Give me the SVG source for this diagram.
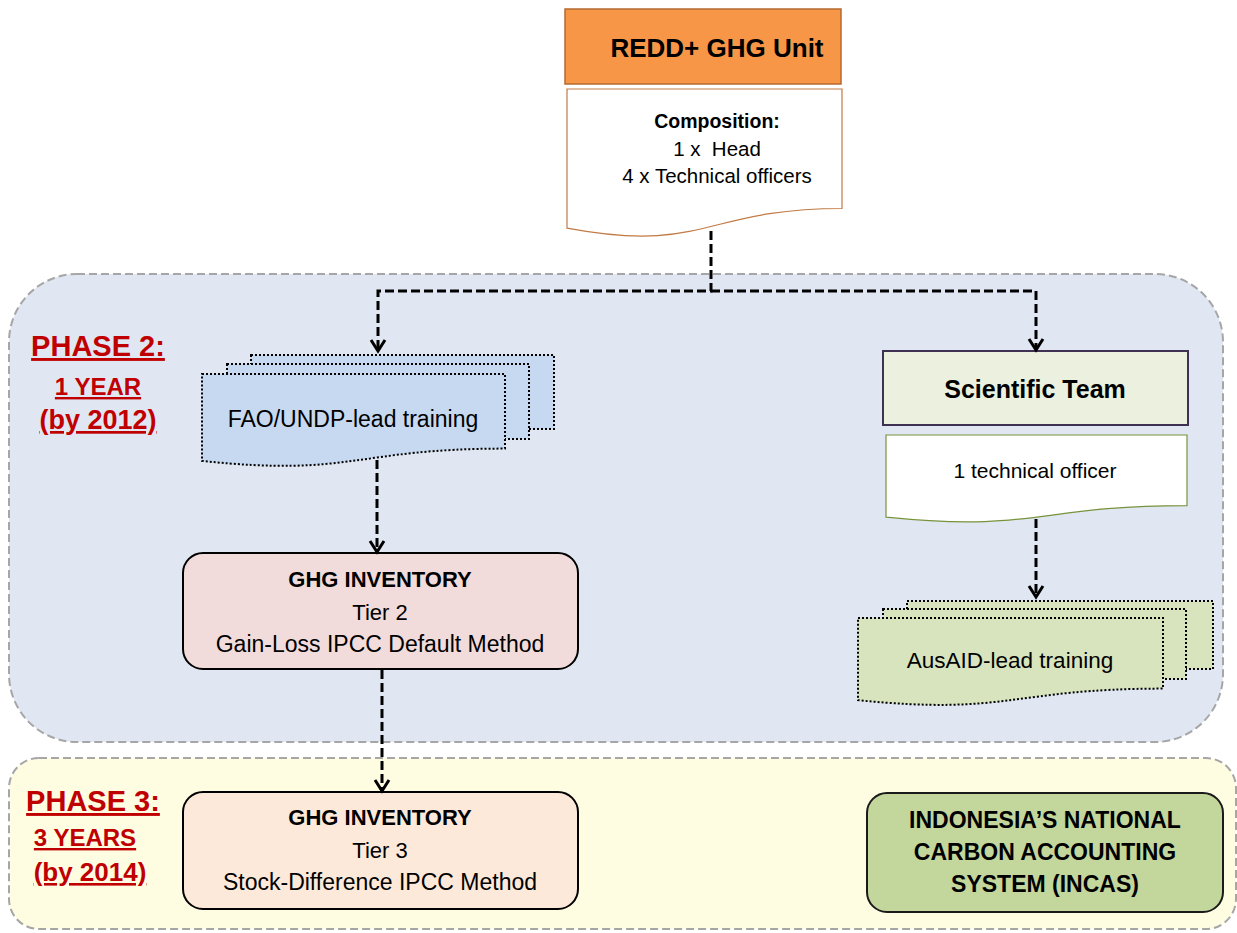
<svg xmlns="http://www.w3.org/2000/svg" width="1237" height="933" viewBox="0 0 1237 933">
<defs>
<style>
.t{font-family:"Liberation Sans",Arial,sans-serif;fill:#000;text-anchor:middle}
.b{font-weight:bold}
.ph{font-family:"Liberation Sans",Arial,sans-serif;font-weight:bold;fill:#c00000;text-anchor:middle;text-decoration:underline}
.phase{stroke:#a6a6a6;stroke-width:2;stroke-dasharray:8 4}
.conn{fill:none;stroke:#000;stroke-width:3;stroke-dasharray:9 4}
.dot{stroke:#000;stroke-width:2;stroke-dasharray:2 2}
.fao{fill:#c6d9f1}
.aus{fill:#d7e4bd}
</style>
<marker id="arr" markerUnits="userSpaceOnUse" markerWidth="20" markerHeight="20" orient="auto" overflow="visible">
<path d="M-11,-7 L0,0 L-11,7" fill="none" stroke="#000" stroke-width="3" stroke-linejoin="miter"/>
</marker>
</defs>
<rect width="1237" height="933" fill="#fff"/>

<g id="phase2">
<rect class="phase" x="9" y="274" width="1214" height="468" rx="68" ry="68" fill="#e0e7f2"/>
<text class="ph" x="98" y="356" font-size="29">PHASE 2:</text>
<text class="ph" x="98" y="395" font-size="24">1 YEAR</text>
<text class="ph" x="98" y="429" font-size="27">(by 2012)</text>
</g>

<g id="phase3">
<rect class="phase" x="9" y="758" width="1227" height="171" rx="30" ry="30" fill="#fefde2"/>
<text class="ph" x="93" y="811" font-size="29">PHASE 3:</text>
<text class="ph" x="85" y="846" font-size="24">3 YEARS</text>
<text class="ph" x="90" y="881" font-size="26">(by 2014)</text>
</g>

<g id="redd-unit">
<rect x="565" y="9" width="276" height="75" fill="#f79646" stroke="#b4692f" stroke-width="1.5"/>
<text class="t b" x="717" y="57" font-size="26">REDD+ GHG Unit</text>
</g>

<g id="composition">
<path d="M567,89 H842 V208.5 C704.5,208.5 704.5,254 567,228.2 Z" fill="#fff" stroke="#c27a45" stroke-width="1.2"/>
<text class="t b" x="717" y="128" font-size="19.5">Composition:</text>
<text class="t" x="717" y="156" font-size="20.5" xml:space="preserve">1 x  Head</text>
<text class="t" x="717" y="183" font-size="20.5">4 x Technical officers</text>
</g>

<g id="fao-training">
<rect class="fao dot" x="251" y="355" width="303" height="74"/>
<rect class="fao dot" x="227" y="364" width="302" height="75"/>
<path class="fao dot" d="M202,374 H505 V448.6 C353.5,448.6 353.5,477 202,460.9 Z"/>
<text class="t" x="353" y="427" font-size="23" fill="#1a1a1a">FAO/UNDP-lead training</text>
</g>

<g id="scientific-team">
<rect x="883" y="351" width="305" height="74" fill="#ebf1de" stroke="#3f3151" stroke-width="2"/>
<text class="t b" x="1035" y="398" font-size="25">Scientific Team</text>
</g>

<g id="technical-officer">
<path d="M886,435 H1187 V505.6 C1036.5,505.6 1036.5,532.5 886,517.2 Z" fill="#fff" stroke="#77933c" stroke-width="1.2"/>
<text class="t" x="1035" y="478" font-size="21">1 technical officer</text>
</g>

<g id="ausaid-training">
<rect class="aus dot" x="907" y="601" width="306" height="68"/>
<rect class="aus dot" x="883" y="609" width="303" height="70"/>
<path class="aus dot" d="M858,618 H1163 V688.6 C1010.5,688.6 1010.5,715.5 858,700.2 Z"/>
<text class="t" x="1010" y="668" font-size="22.5" fill="#1a1a1a">AusAID-lead training</text>
</g>

<g id="ghg-tier2">
<rect x="183" y="553" width="395" height="116" rx="20" ry="20" fill="#f2dcdb" stroke="#000" stroke-width="2"/>
<text class="t b" x="380" y="587" font-size="22">GHG INVENTORY</text>
<text class="t" x="380" y="620" font-size="22">Tier 2</text>
<text class="t" x="380" y="652" font-size="23">Gain-Loss IPCC Default Method</text>
</g>

<g id="ghg-tier3">
<rect x="183" y="792" width="395" height="117" rx="20" ry="20" fill="#fde9d9" stroke="#000" stroke-width="2"/>
<text class="t b" x="380" y="825" font-size="22">GHG INVENTORY</text>
<text class="t" x="380" y="858" font-size="22">Tier 3</text>
<text class="t" x="380" y="890" font-size="23">Stock-Difference IPCC Method</text>
</g>

<g id="incas">
<rect x="867" y="793" width="356" height="119" rx="20" ry="20" fill="#c3d69b" stroke="#1a1a1a" stroke-width="2"/>
<text class="t b" x="1045" y="828" font-size="23">INDONESIA’S NATIONAL</text>
<text class="t b" x="1045" y="860" font-size="23">CARBON ACCOUNTING</text>
<text class="t b" x="1045" y="892" font-size="23">SYSTEM (INCAS)</text>
</g>

<g id="connectors">
<path class="conn" d="M711,231 V291 H378 V351" marker-end="url(#arr)"/>
<path class="conn" d="M711,291 H1036 V350" marker-end="url(#arr)"/>
<path class="conn" d="M377,460 V552" marker-end="url(#arr)"/>
<path class="conn" d="M382,670 V791" marker-end="url(#arr)"/>
<path class="conn" d="M1036,519 V597" marker-end="url(#arr)"/>
</g>
</svg>
